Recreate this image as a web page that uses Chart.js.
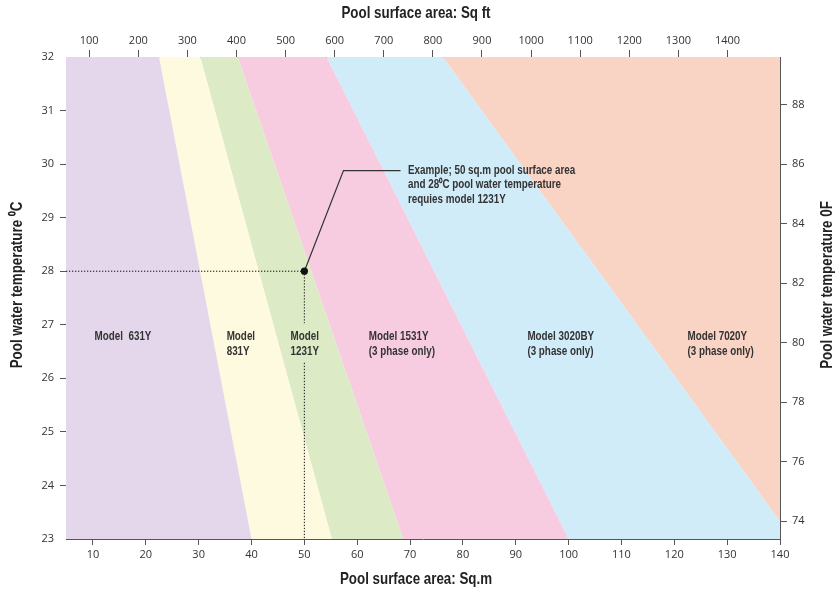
<!DOCTYPE html>
<html>
<head>
<meta charset="utf-8">
<script src="https://cdn.jsdelivr.net/npm/chart.js@4.4.1/dist/chart.umd.min.js"></script>
<style>
  html, body { margin: 0; padding: 0; background: #fff; }
  #wrap { width: 836px; height: 591px; }
</style>
</head>
<body>
<div id="wrap"><canvas id="chart" width="836" height="591"></canvas></div>
<script>
// axis ranges
const X_MIN = 4.9, X_MAX = 140;       // sq.m
const T_MIN = 23, T_MAX = 32;         // deg C
const SQFT_PER_SQM = 10.764;

// tick labels
const SQM_TICKS = [10, 20, 30, 40, 50, 60, 70, 80, 90, 100, 110, 120, 130, 140];
const SQFT_TICKS = [100, 200, 300, 400, 500, 600, 700, 800, 900, 1000, 1100, 1200, 1300, 1400];
const C_TICKS = [23, 24, 25, 26, 27, 28, 29, 30, 31, 32];
const F_TICKS = [74, 76, 78, 80, 82, 84, 86, 88];

// model boundaries: area where each line meets 32C, and where it ends at the low side
const BOUNDARY_TOP = [22.5, 30.3, 37.4, 54.2, 76.2];
const BOUNDARY_LOW_AREA = [40, 55.2, 68.7, 100, 140];
const BOUNDARY_LOW_TEMP = [23, 23, 23, 23, 23.33];

const MODELS = ['631Y', '831Y', '1231Y', '1531Y', '3020BY', '7020Y'];
const BAND_COLORS = ['#e4d7eb', '#fefadf', '#dcebc5', '#f7cce0', '#d0ecf8', '#f9d3c3'];

// worked example
const EXAMPLE_AREA = 50, EXAMPLE_TEMP = 28;
const LEADER_AREA = [50, 57.4, 68.2];
const LEADER_TEMP = [28, 29.88, 29.88];

const cToF = c => c * 1.8 + 32;

// label placement (left edge in sq.m, first line in deg C)
const LABELS = [
  { x: 10.3, y: 26.78, lines: ['Model  ' + MODELS[0]] },
  { x: 35.3, y: 26.78, lines: ['Model', MODELS[1]] },
  { x: 47.4, y: 26.78, lines: ['Model', MODELS[2]] },
  { x: 62.2, y: 26.78, lines: ['Model ' + MODELS[3], '(3 phase only)'] },
  { x: 92.2, y: 26.78, lines: ['Model ' + MODELS[4], '(3 phase only)'] },
  { x: 122.5, y: 26.78, lines: ['Model ' + MODELS[5], '(3 phase only)'] }
];
const NOTE = {
  x: 69.6, y: 29.88,
  lines: ['Example; 50 sq.m pool surface area', 'and 28\u2070C pool water temperature', 'requies model 1231Y']
};
const TITLES = {
  top: 'Pool surface area: Sq ft',
  bottom: 'Pool surface area: Sq.m',
  left: 'Pool water temperature \u2070C',
  right: 'Pool water temperature 0F'
};

const BOLD = '"Liberation Sans", Arial, sans-serif';
const SQUEEZE = 0.82; // condensed look
const TICK_FONT = { family: '"Open Sans", sans-serif', size: 11 };
const AXIS_COLOR = '#555';
const TEXT_COLOR = '#333';

// build the band polygons from the boundary lines
const edges = [{ top: X_MIN, area: X_MIN, temp: T_MIN }];
BOUNDARY_TOP.forEach((t, i) => edges.push({ top: t, area: BOUNDARY_LOW_AREA[i], temp: BOUNDARY_LOW_TEMP[i] }));
edges.push({ top: X_MAX, area: X_MAX, temp: T_MIN });

const bandSets = MODELS.map((m, i) => {
  const L = edges[i], R = edges[i + 1];
  return {
    label: m,
    data: [
      { x: L.top, y: T_MAX }, { x: R.top, y: T_MAX },
      { x: R.area, y: R.temp }, { x: R.area, y: T_MIN },
      { x: L.area, y: T_MIN }, { x: L.area, y: L.temp }
    ],
    fill: 'shape',
    backgroundColor: BAND_COLORS[i],
    borderWidth: 0,
    pointRadius: 0,
    order: 10
  };
});

const dotted = { borderColor: '#111', borderWidth: 1, borderDash: [1.3, 1.7], pointRadius: 0, fill: false, order: 2 };

const datasets = [
  Object.assign({ label: 'h', data: [{ x: X_MIN, y: EXAMPLE_TEMP }, { x: EXAMPLE_AREA, y: EXAMPLE_TEMP }] }, dotted),
  Object.assign({ label: 'v', data: [
    { x: EXAMPLE_AREA, y: EXAMPLE_TEMP }, { x: EXAMPLE_AREA, y: 27.03 },
    { x: EXAMPLE_AREA, y: null },
    { x: EXAMPLE_AREA, y: 26.29 }, { x: EXAMPLE_AREA, y: T_MIN }
  ] }, dotted),
  {
    label: 'leader',
    data: LEADER_AREA.map((a, i) => ({ x: a, y: LEADER_TEMP[i] })),
    borderColor: '#333', borderWidth: 1.2, pointRadius: 0, fill: false, order: 1
  },
  {
    label: 'example',
    data: [{ x: EXAMPLE_AREA, y: EXAMPLE_TEMP }],
    showLine: false, pointRadius: 3.6, pointBackgroundColor: '#111', pointBorderWidth: 0, order: 0
  }
].concat(bandSets);

// squeezed bold text, like a condensed face
function narrowText(ctx, text, x, y, size, rot) {
  ctx.save();
  ctx.translate(x, y);
  if (rot) ctx.rotate(rot);
  ctx.scale(SQUEEZE, 1);
  ctx.font = 'bold ' + size + 'px ' + BOLD;
  ctx.fillText(text, 0, 0);
  ctx.restore();
}

const textPlugin = {
  id: 'bandText',
  afterDatasetsDraw(chart) {
    const { ctx, chartArea: a } = chart;
    const xs = chart.scales.x, ys = chart.scales.y;
    ctx.save();
    ctx.fillStyle = TEXT_COLOR;
    ctx.textAlign = 'left';
    ctx.textBaseline = 'middle';
    LABELS.forEach(l => {
      const px = xs.getPixelForValue(l.x), py = ys.getPixelForValue(l.y);
      l.lines.forEach((t, k) => narrowText(ctx, t, px, py + k * 15.3, 12));
    });
    const nx = xs.getPixelForValue(NOTE.x), ny = ys.getPixelForValue(NOTE.y);
    NOTE.lines.forEach((t, k) => narrowText(ctx, t, nx, ny + k * 14.6, 12));

    // axis titles
    ctx.fillStyle = '#222';
    ctx.textAlign = 'center';
    const cx = (a.left + a.right) / 2 - 7, cy = (a.top + a.bottom) / 2 - 13;
    narrowText(ctx, TITLES.top, cx, 14, 16.3);
    narrowText(ctx, TITLES.bottom, cx, 580, 16.3);
    narrowText(ctx, TITLES.left, 18, cy, 16.3, -Math.PI / 2);
    narrowText(ctx, TITLES.right, 828, cy, 16.3, -Math.PI / 2);
    ctx.restore();
  }
};

function axis(position, min, max, tickValues, opts) {
  return Object.assign({
    type: 'linear',
    position: position,
    min: min,
    max: max,
    afterBuildTicks: s => { s.ticks = tickValues.map(v => ({ value: v })); },
    grid: { drawOnChartArea: false, drawTicks: true, color: AXIS_COLOR, tickLength: 6 },
    border: { display: true, color: AXIS_COLOR, width: 1 },
    ticks: { font: TICK_FONT, color: TEXT_COLOR, autoSkip: false, maxRotation: 0, callback: v => String(v) },
    title: { display: false }
  }, opts);
}

new Chart(document.getElementById('chart'), {
  type: 'line',
  data: { datasets: datasets },
  options: {
    responsive: false,
    animation: false,
    layout: { padding: 0 },
    plugins: { legend: { display: false }, tooltip: { enabled: false } },
    scales: {
      x: axis('bottom', X_MIN, X_MAX, SQM_TICKS, {
        afterFit: s => { s.height = 52; }
      }),
      x2: axis('top', X_MIN * SQFT_PER_SQM, X_MAX * SQFT_PER_SQM, SQFT_TICKS, {
        afterFit: s => { s.height = 57; }
      }),
      y: axis('left', T_MIN, T_MAX, C_TICKS, {
        afterFit: s => { s.width = 66; }
      }),
      y2: axis('right', cToF(T_MIN), cToF(T_MAX), F_TICKS, {
        afterFit: s => { s.width = 56; }
      })
    }
  },
  plugins: [textPlugin]
});

// fine-tune tick spacing per axis
const ch = Chart.getChart('chart');
const sc = ch.options.scales;
sc.x.ticks.padding = 3;
sc.x2.grid.tickLength = 7;
sc.x2.ticks.padding = 3;
sc.y.ticks.padding = 6;
sc.y.grid.tickColor = c => (c.tick && (c.tick.value === T_MIN || c.tick.value === T_MAX)) ? 'rgba(0,0,0,0)' : AXIS_COLOR;
sc.y2.grid.tickLength = 7;
sc.y2.ticks.padding = 5;
ch.update();
</script>
</body>
</html>
